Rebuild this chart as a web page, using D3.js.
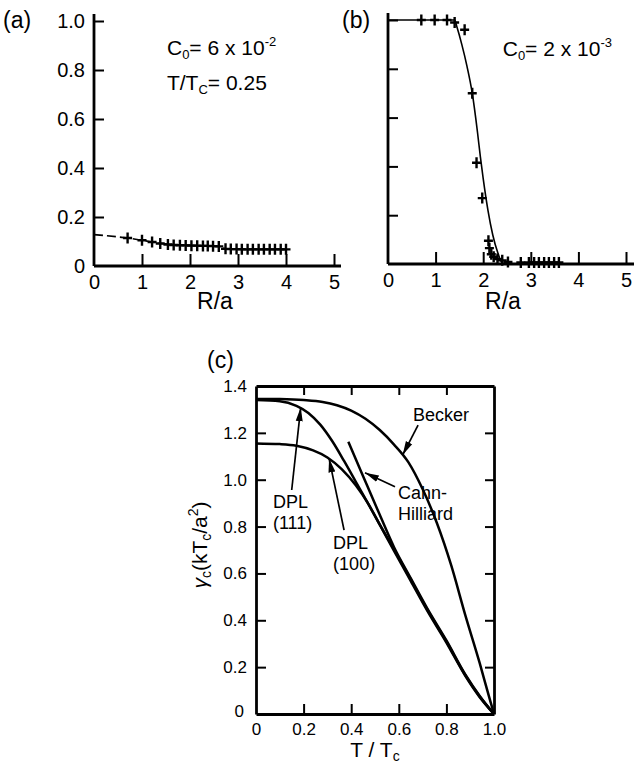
<!DOCTYPE html>
<html><head><meta charset="utf-8">
<script src="https://cdn.jsdelivr.net/npm/d3@7"></script>
<style>
html,body{margin:0;padding:0;background:#fff;}
text{font-family:"Liberation Sans",Arial,Helvetica,sans-serif;fill:#000;}
</style></head>
<body><svg id="chart" width="636" height="767"></svg>
<script>
// ---------- DATA ----------
// Panel (a): C0 = 6e-2, T/Tc = 0.25
const aMarkR = [0.70,1.0,1.21,1.38,1.54,1.66,1.79,1.91,2.03,2.15,2.27,2.37,2.48,2.60,2.74,2.85,2.97,3.08,3.20,3.31,3.43,3.54,3.66,3.77,3.89,4.0];
const aMarkC = [0.114,0.105,0.098,0.092,0.088,0.086,0.085,0.084,0.083,0.083,0.082,0.082,0.081,0.080,0.070,0.069,0.069,0.068,0.068,0.068,0.068,0.068,0.068,0.068,0.068,0.068];
const aLineR = [0,0.7,1.0,1.4,2.0,2.6,2.75,4.0];
const aLineC = [0.128,0.114,0.105,0.092,0.084,0.080,0.070,0.068];
// Panel (b): C0 = 2e-3
const bMarkR = [0.70,0.98,1.24,1.40,1.61,1.77,1.86,1.98,2.11,2.13,2.17,2.22,2.30,2.40,2.52,2.79,2.96,3.07,3.17,3.28,3.38,3.49,3.59];
const bMarkC = [1.0,1.0,1.0,0.99,0.96,0.70,0.415,0.27,0.095,0.065,0.04,0.03,0.02,0.015,0.008,0.006,0.006,0.006,0.006,0.006,0.006,0.006,0.006];
const bLineR = [0,1.4,1.45,1.55,1.66,1.77,1.88,1.94,2.0,2.1,2.2,2.3,2.42,5.0];
const bLineC = [1.0,1.0,0.97,0.9,0.81,0.70,0.54,0.44,0.35,0.22,0.12,0.05,0.0,0.0];
// Panel (c): surface tension vs T/Tc
const beckerT = [0,0.1,0.2,0.28,0.34,0.4,0.46,0.52,0.58,0.64,0.7,0.76,0.82,0.88,0.94,0.983,1.0];
const beckerG = [1.345,1.344,1.34,1.332,1.318,1.295,1.26,1.212,1.15,1.075,0.96,0.815,0.635,0.42,0.217,0.06,0];
const dpl111T = [0,0.1,0.17,0.22,0.27,0.32,0.37,0.42,0.47,0.52,0.58,0.65,0.72,0.8,0.88,0.94,1.0];
const dpl111G = [1.34,1.335,1.315,1.285,1.235,1.165,1.08,0.99,0.9,0.808,0.703,0.575,0.445,0.31,0.165,0.075,0];
const dpl100T = [0,0.1,0.17,0.24,0.3,0.36,0.42,0.47,0.52,0.58,0.65,0.72,0.8,0.88,0.94,1.0];
const dpl100G = [1.155,1.152,1.145,1.125,1.095,1.045,0.975,0.9,0.808,0.696,0.568,0.44,0.305,0.162,0.072,0];
const chT = [0.388,0.45,0.52,0.58,0.65,0.72,0.8,0.88,0.94,1.0];
const chG = [1.162,1.015,0.85,0.712,0.58,0.45,0.314,0.168,0.077,0];
// tick values
const abTicksX = [0,1,2,3,4,5];
const abTicksY = [0,0.2,0.4,0.6,0.8,1.0];
const cTicksX = [0,0.2,0.4,0.6,0.8,1.0];
const cTicksY = [0,0.2,0.4,0.6,0.8,1.0,1.2,1.4];
// annotations (data coordinates of panel c)
const cLabels = [
  {lines:["Becker"], T:0.66, g:1.25},
  {lines:["Cahn-","Hilliard"], T:0.597, g:0.918},
  {lines:["DPL","(111)"], T:0.071, g:0.878},
  {lines:["DPL","(100)"], T:0.324, g:0.706}
];
const cArrows = [
  {T1:0.681,g1:1.233,T2:0.616,g2:1.105},
  {T1:0.584,g1:0.970,T2:0.458,g2:1.03},
  {T1:0.15,g1:0.956,T2:0.188,g2:1.309},
  {T1:0.37,g1:0.785,T2:0.307,g2:1.091}
];

// ---------- DRAW ----------
const svg = d3.select("#chart");
svg.append("rect").attr("width",636).attr("height",767).attr("fill","#fff");
svg.append("defs").append("marker").attr("id","ah")
  .attr("viewBox","0 -4 14 8").attr("refX",14).attr("refY",0)
  .attr("markerUnits","userSpaceOnUse").attr("markerWidth",14).attr("markerHeight",8)
  .attr("orient","auto")
  .append("path").attr("d","M0,-3.5L14,0L0,3.5Z").attr("fill","#000");

const fmt1 = d => d===0 ? "0" : d3.format(".1f")(d);
const plus = "M-4.5,0H4.5M0,-5.5V5.5";

function styleAxis(g, fs){
  g.select(".domain").attr("stroke","#000").attr("stroke-width",2.8);
  g.selectAll(".tick line").attr("stroke","#000").attr("stroke-width",2);
  g.selectAll(".tick text").attr("font-size",fs).attr("font-family","Liberation Sans, Arial, sans-serif").attr("fill","#000");
}

function smallPanel(x, y, markR, markC, lineR, lineC, dashed, showYLabels, xEnd){
  const gx = svg.append("g").attr("transform",`translate(0,${y(0)})`)
    .call(d3.axisBottom(x).tickValues(abTicksX).tickSize(-12).tickSizeOuter(0).tickPadding(9).tickFormat(d3.format("d")));
  styleAxis(gx, 20);
  gx.select(".domain").attr("d",`M${x(0)},0H${xEnd}`);
  gx.selectAll(".tick").filter(d=>d===0).select("line").remove();
  const ay = d3.axisLeft(y).tickValues(abTicksY).tickSize(-10).tickSizeOuter(0).tickPadding(9).tickFormat(showYLabels?fmt1:"");
  const gy = svg.append("g").attr("transform",`translate(${x(0)},0)`).call(ay);
  styleAxis(gy, 20);
  gy.select(".domain").attr("d",`M0,${y(0)}V${y(1)-7}`);
  gy.selectAll(".tick").filter(d=>d===0).select("line").remove();
  const line = d3.line().x(d=>x(d[0])).y(d=>y(d[1])).curve(d3.curveMonotoneX);
  svg.append("path").datum(d3.zip(lineR,lineC)).attr("d",line)
    .attr("fill","none").attr("stroke","#000").attr("stroke-width",1.6)
    .attr("stroke-dasharray",dashed?"9,4":null);
  svg.append("g").selectAll("path").data(d3.zip(markR,markC)).join("path")
    .attr("transform",d=>`translate(${x(d[0])},${y(d[1])})`)
    .attr("d",plus).attr("stroke","#000").attr("stroke-width",2.4).attr("fill","none");
}

// Panel (a)
const xA = d3.scaleLinear().domain([0,5]).range([94,334]);
const yA = d3.scaleLinear().domain([0,1]).range([266,21]);
smallPanel(xA,yA,aMarkR,aMarkC,aLineR,aLineC,true,true,341);
// Panel (b)
const xB = d3.scaleLinear().domain([0,5]).range([388,626]);
const yB = d3.scaleLinear().domain([0,1]).range([264,20]);
smallPanel(xB,yB,bMarkR,bMarkC,bLineR,bLineC,false,false,634);

// panel letters and axis titles for (a),(b)
svg.append("text").attr("x",3).attr("y",28).attr("font-size",23).text("(a)");
svg.append("text").attr("x",342).attr("y",28).attr("font-size",23).text("(b)");
svg.append("text").attr("x",215).attr("y",309).attr("font-size",23).attr("text-anchor","middle").text("R/a");
svg.append("text").attr("x",503).attr("y",309).attr("font-size",23).attr("text-anchor","middle").text("R/a");

// (a),(b) annotations
function concAnno(xp, yp, main, sub, rest, sup){
  const t = svg.append("text").attr("x",xp).attr("y",yp).attr("font-size",21);
  t.append("tspan").text(main);
  t.append("tspan").attr("font-size",13).attr("dy",4).text(sub);
  t.append("tspan").attr("dy",-4).text(rest);
  if(sup) t.append("tspan").attr("font-size",13).attr("dy",-9).text(sup);
}
concAnno(xA(1.52), yA(0.861), "C", "0", "= 6 x 10", "-2");
concAnno(xA(1.52), yA(0.718), "T/T", "C", "= 0.25", null);
concAnno(xB(2.41), yB(0.853), "C", "0", "= 2 x 10", "-3");

// Panel (c)
const xC = d3.scaleLinear().domain([0,1]).range([256,494]);
const yC = d3.scaleLinear().domain([0,1.4]).range([714,386]);
const gcx = svg.append("g").attr("transform",`translate(0,${yC(0)})`)
  .call(d3.axisBottom(xC).tickValues(cTicksX).tickSize(-10).tickSizeOuter(0).tickPadding(9).tickFormat(fmt1));
styleAxis(gcx,17);
gcx.selectAll(".tick").filter(d=>d===0||d===1).select("line").remove();
const gcy = svg.append("g").attr("transform",`translate(${xC(0)},0)`)
  .call(d3.axisLeft(yC).tickValues(cTicksY).tickSize(-10).tickSizeOuter(0).tickPadding(9).tickFormat(fmt1));
styleAxis(gcy,17);
gcy.selectAll(".tick").filter(d=>d===0||d===1.4).select("line").remove();
gcy.selectAll(".tick").filter(d=>d===0).select("text").attr("dy","0.15em").attr("x",-12);
const gct = svg.append("g").attr("transform",`translate(0,${yC(1.4)})`)
  .call(d3.axisTop(xC).tickValues(cTicksX.filter(d=>d>0&&d<1)).tickSize(-9).tickSizeOuter(0).tickFormat(""));
styleAxis(gct,17);
const gcr = svg.append("g").attr("transform",`translate(${xC(1)},0)`)
  .call(d3.axisRight(yC).tickValues(cTicksY.filter(d=>d>0&&d<1.4)).tickSize(-9).tickSizeOuter(0).tickFormat(""));
styleAxis(gcr,17);

const lineC = d3.line().x(d=>xC(d[0])).y(d=>yC(d[1])).curve(d3.curveMonotoneX);
[[beckerT,beckerG],[dpl111T,dpl111G],[dpl100T,dpl100G],[chT,chG]].forEach(([t,g])=>{
  svg.append("path").datum(d3.zip(t,g)).attr("d",lineC)
    .attr("fill","none").attr("stroke","#000").attr("stroke-width",2.5);
});
cArrows.forEach(a=>{
  svg.append("line").attr("x1",xC(a.T1)).attr("y1",yC(a.g1)).attr("x2",xC(a.T2)).attr("y2",yC(a.g2))
    .attr("stroke","#000").attr("stroke-width",1.7).attr("marker-end","url(#ah)");
});
cLabels.forEach(l=>{
  const t = svg.append("text").attr("x",xC(l.T)).attr("y",yC(l.g)).attr("font-size",18);
  l.lines.forEach((s,i)=>t.append("tspan").attr("x",xC(l.T)).attr("dy",i?21:0).text(s));
});
svg.append("text").attr("x",207).attr("y",368).attr("font-size",23).text("(c)");
// x title
{
  const t = svg.append("text").attr("x",375).attr("y",757).attr("font-size",21).attr("text-anchor","middle");
  t.append("tspan").text("T / T");
  t.append("tspan").attr("font-size",14).attr("dy",4).text("c");
}
// y title
{
  const t = svg.append("text").attr("transform","translate(207,545) rotate(-90)").attr("font-size",21).attr("text-anchor","middle");
  t.append("tspan").attr("font-style","italic").text("γ");
  t.append("tspan").attr("font-size",14).attr("dy",4).text("c");
  t.append("tspan").attr("dy",-4).text("(kT");
  t.append("tspan").attr("font-size",14).attr("dy",4).text("c");
  t.append("tspan").attr("dy",-4).text("/a");
  t.append("tspan").attr("font-size",14).attr("dy",-9).text("2");
  t.append("tspan").attr("dy",9).text(")");
}
</script></body></html>
